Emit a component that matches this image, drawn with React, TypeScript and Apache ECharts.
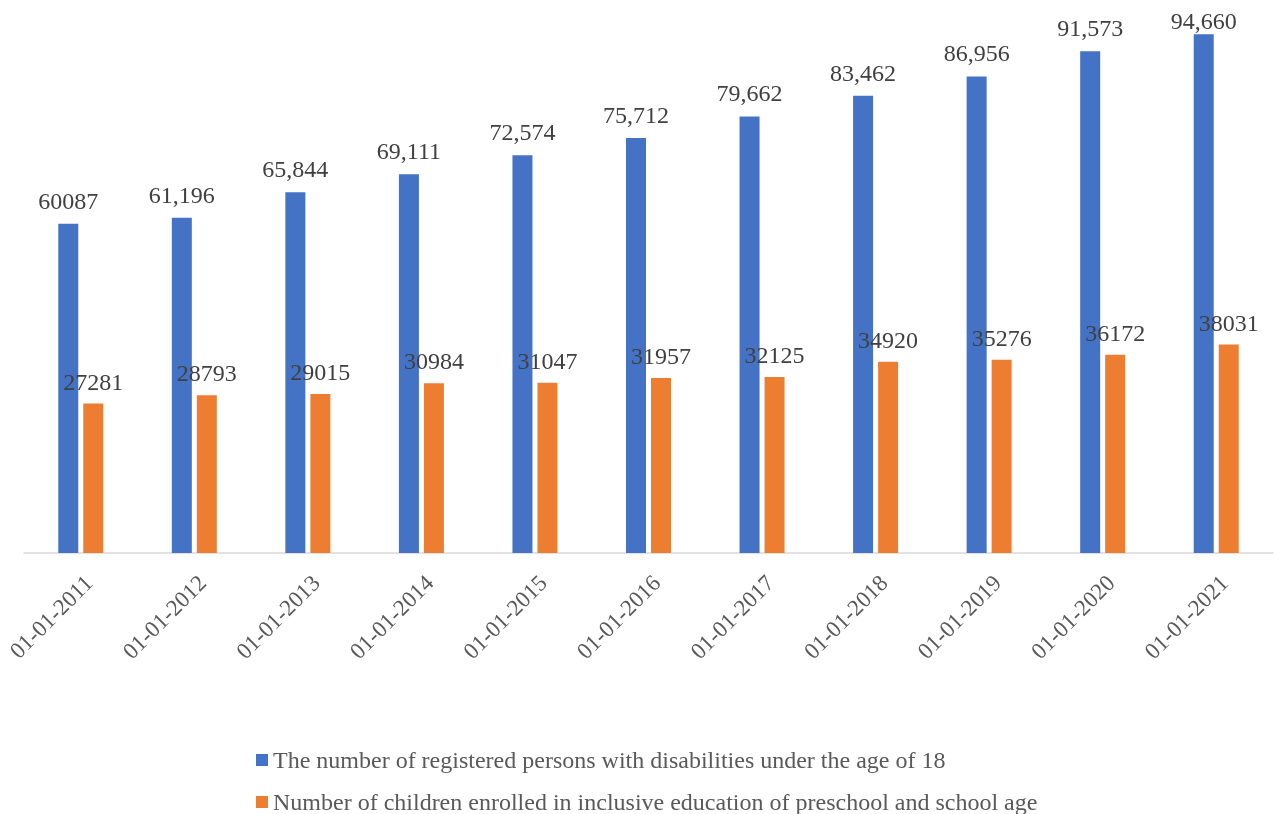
import React, { useEffect, useRef } from "react";
import * as echarts from "echarts";

const categories = [
  "01-01-2011", "01-01-2012", "01-01-2013", "01-01-2014", "01-01-2015", "01-01-2016",
  "01-01-2017", "01-01-2018", "01-01-2019", "01-01-2020", "01-01-2021",
];
const registered = [60087, 61196, 65844, 69111, 72574, 75712, 79662, 83462, 86956, 91573, 94660];
const registeredLabels = ["60087", "61,196", "65,844", "69,111", "72,574", "75,712", "79,662", "83,462", "86,956", "91,573", "94,660"];
const enrolled = [27281, 28793, 29015, 30984, 31047, 31957, 32125, 34920, 35276, 36172, 38031];
const seriesNames = [
  "The number of registered persons with disabilities under the age of 18",
  "Number of children enrolled in inclusive education of preschool and school age",
];

const FONT = "'Liberation Serif', 'Times New Roman', serif";

const legendBase = {
  orient: "horizontal",
  left: 251,
  itemWidth: 12,
  itemHeight: 12,
  icon: "rect",
  textStyle: { fontFamily: FONT, fontSize: 24, color: "#595959", padding: [0, 0, 0, 0] },
};

export default function App() {
  const ref = useRef<HTMLDivElement>(null);
  useEffect(() => {
    if (!ref.current) return;
    const chart = echarts.init(ref.current, null, { renderer: "svg" });
    const lastIdx = registered.length - 1;
    chart.setOption({
      animation: false,
      textStyle: { fontFamily: FONT },
      grid: { left: 24, right: 12, top: 5, bottom: 261, containLabel: false, outerBoundsMode: "none" },
      legend: [
        { ...legendBase, top: 743, data: [seriesNames[0]] },
        { ...legendBase, top: 785, data: [seriesNames[1]] },
      ],
      xAxis: {
        type: "category",
        data: categories,
        axisLine: { show: true, lineStyle: { color: "#d9d9d9", width: 1.5 } },
        axisTick: { show: false },
        axisLabel: {
          rotate: 45,
          fontSize: 23,
          color: "#595959",
          fontFamily: FONT,
          margin: 18,
          align: "right",
          verticalAlign: "top",
          interval: 0,
        },
      },
      yAxis: {
        type: "value",
        min: 0,
        max: 100000,
        show: false,
        splitLine: { show: false },
      },
      series: [
        {
          name: seriesNames[0],
          type: "bar",
          data: registered.map((v, i) =>
            i === lastIdx ? { value: v, label: { distance: 1 } } : v
          ),
          barWidth: 20,
          barGap: "25%",
          itemStyle: { color: "#4472C4" },
          label: {
            show: true,
            position: "top",
            distance: 11,
            fontSize: 24,
            color: "#404040",
            fontFamily: FONT,
            formatter: (p: any) => registeredLabels[p.dataIndex],
          },
        },
        {
          name: seriesNames[1],
          type: "bar",
          data: enrolled,
          barWidth: 20,
          itemStyle: { color: "#ED7D31" },
          label: {
            show: true,
            position: "top",
            distance: 10,
            fontSize: 24,
            color: "#404040",
            fontFamily: FONT,
          },
        },
      ],
    });
    return () => chart.dispose();
  }, []);
  return <div ref={ref} style={{ position: "fixed", left: 0, top: 0, width: 1285, height: 814 }} />;
}
